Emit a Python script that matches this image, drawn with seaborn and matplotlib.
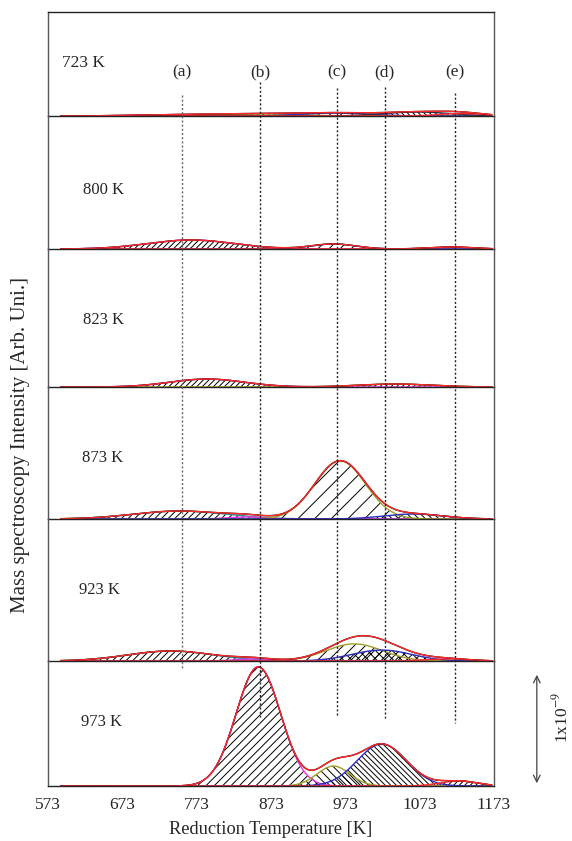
import numpy as np
import pandas as pd
import matplotlib
matplotlib.use("Agg")
import matplotlib.pyplot as plt
import matplotlib.transforms as mtransforms
from matplotlib.lines import Line2D
import seaborn as sns

# ---- data -----------------------------------------------------------------
panel_labels = ["723 K", "800 K", "823 K", "873 K", "923 K", "973 K"]

# fitted Gaussian components per reduction run (centre [K], height [1e-9], sigma [K])
peak_centers = [
    [753, 860, 960, 1070, 1130],
    [765, 957, 1115],
    [787, 1040],
    [750, 840, 966, 1065],
    [738, 850, 985, 1022, 1110],
    [856, 957, 1022, 1125],
]
peak_heights = [
    [0.013, 0.018, 0.026, 0.035, 0.022],
    [0.079, 0.044, 0.018],
    [0.070, 0.026],
    [0.070, 0.018, 0.510, 0.044],
    [0.088, 0.018, 0.150, 0.096, 0.018],
    [1.044, 0.175, 0.368, 0.044],
]
peak_widths = [
    [60, 50, 45, 45, 30],
    [58, 30, 30],
    [50, 50],
    [62, 25, 34, 40],
    [58, 25, 38, 40, 30],
    [30, 22, 33, 25],
]

# reference temperatures of the desorption features
feature_temps = [753, 858, 962, 1026, 1120]
feature_labels = ["(a)", "(b)", "(c)", "(d)", "(e)"]

x_ticks = [573, 673, 773, 873, 973, 1073, 1173]

# ---- styling ----------------------------------------------------------------
MAGENTA, TEAL, OLIVE, BLUE, RED, DARK = "#e632e6", "#2f8f8f", "#a0a028", "#2b2bbf", "#ff2a2a", "#303040"
peak_colors = [
    [MAGENTA, OLIVE, BLUE, DARK, RED],
    [MAGENTA, BLUE, RED],
    [MAGENTA, OLIVE],
    [TEAL, MAGENTA, OLIVE, BLUE],
    [TEAL, MAGENTA, OLIVE, BLUE, RED],
    [MAGENTA, OLIVE, BLUE, RED],
]
peak_hatches = [
    ["//////", "//////", "///", "\\\\\\\\\\\\", ""],
    ["//////", "///", ""],
    ["//////", "//////"],
    ["/////", "", "//", "\\\\\\\\\\"],
    ["/////", "", "///", "xxxx", ""],
    ["////", "\\\\\\\\", "\\\\\\\\\\\\", "//////"],
]

sns.set_theme(style="white")
plt.rcParams["font.family"] = ["Liberation Serif", "DejaVu Serif"]
plt.rcParams["mathtext.fontset"] = "stix"
plt.rcParams["hatch.linewidth"] = 0.7
plt.rcParams["hatch.color"] = "black"

W, H = 572, 841
px_per_unit = 114.0
panel_px = [104, 133, 138, 132, 142, 125]
top_px, bottom_px = 12, 786
left_px, right_px = 48, 494

fig = plt.figure(figsize=(W / 100, H / 100), dpi=100)
fig.patch.set_facecolor("white")
gs = fig.add_gridspec(
    len(panel_px), 1, height_ratios=panel_px, hspace=0,
    left=left_px / W, right=right_px / W, top=1 - top_px / H, bottom=1 - bottom_px / H,
)
axes = [fig.add_subplot(gs[i]) for i in range(len(panel_px))]

temps = np.linspace(590, 1170, 800)
label_y_px = [53, 59, 67, 61, 71, 64]
label_x = [592, 620, 620, 619, 615, 617]
label_size = [12.5, 12, 12, 12, 12, 12]

for i, ax in enumerate(axes):
    ax.patch.set_visible(False)
    comps = []
    for c, h, s in zip(peak_centers[i], peak_heights[i], peak_widths[i]):
        comps.append(h * np.exp(-0.5 * ((temps - c) / s) ** 2))
    total = np.sum(comps, axis=0)

    for comp, col, hat in zip(comps, peak_colors[i], peak_hatches[i]):
        if hat:
            ax.fill_between(temps, 0, comp, facecolor="none", edgecolor="black",
                            hatch=hat, linewidth=0)
        sns.lineplot(x=temps, y=comp, ax=ax, color=col, lw=1.0)

    curves = pd.DataFrame({"T": temps, "signal": total})
    sns.lineplot(data=curves, x="T", y="signal", ax=ax, color="black", lw=1.0)
    sns.lineplot(data=curves, x="T", y="signal", ax=ax, color=RED, lw=1.0)

    ax.set_xlim(573, 1173)
    ax.set_ylim(0, panel_px[i] / px_per_unit)
    ax.set_yticks([])
    ax.set_xlabel("")
    ax.set_ylabel("")
    for side in ("left", "right"):
        ax.spines[side].set_color("#555555")
        ax.spines[side].set_linewidth(1.0)
    ax.spines["bottom"].set_color("#222222")
    ax.spines["bottom"].set_linewidth(1.0)
    ax.spines["bottom"].set_zorder(5)
    if i > 0:
        ax.spines["top"].set_visible(False)
    else:
        ax.spines["top"].set_color("#222222")
        ax.spines["top"].set_linewidth(1.0)

    ax.text(label_x[i], label_y_px[i] / px_per_unit, panel_labels[i],
            fontsize=label_size[i], ha="left", va="center")

    if i < len(axes) - 1:
        ax.set_xticks([])
    else:
        ax.set_xticks(x_ticks)
        ax.set_xticklabels([str(t) for t in x_ticks], fontsize=12.5)
        ax.tick_params(axis="x", direction="in", length=0, pad=8)
        ax.set_xlabel("Reduction Temperature [K]", fontsize=13.2, labelpad=6)

# dotted markers for features (a)-(e), running through the stacked panels
line_top_px = [95, 82, 88, 87, 93]
line_bot_px = [668, 717, 717, 718, 723]
trans = mtransforms.blended_transform_factory(axes[0].transData, fig.transFigure)
for T, lab, y0, y1 in zip(feature_temps, feature_labels, line_top_px, line_bot_px):
    fig.add_artist(Line2D([T, T], [1 - y0 / H, 1 - y1 / H], transform=trans,
                          color="#222222" if lab != "(a)" else "#666666",
                          lw=1.0, ls=(0, (1.5, 1.5))))
    axes[0].text(T, 44 / px_per_unit, lab, fontsize=12.5, ha="center", va="center")

# intensity scale bar on the bottom panel
bax = axes[-1]
btrans = mtransforms.blended_transform_factory(bax.transAxes, bax.transData)
bax.annotate("", xy=(1.096, 0.0), xytext=(1.096, 1.0), xycoords=btrans, textcoords=btrans,
             arrowprops=dict(arrowstyle="<->", color="#444444", lw=0.9), annotation_clip=False)
bax.text(1.15, 0.6, r"1x10$^{-9}$", transform=btrans, rotation=90, fontsize=12.5,
         ha="center", va="center", clip_on=False)

fig.text(21 / W, 1 - 445 / H, "Mass spectroscopy Intensity [Arb. Uni.]", rotation=90,
         fontsize=15, ha="center", va="center")

fig.savefig("out.png", dpi=100, facecolor="white")
